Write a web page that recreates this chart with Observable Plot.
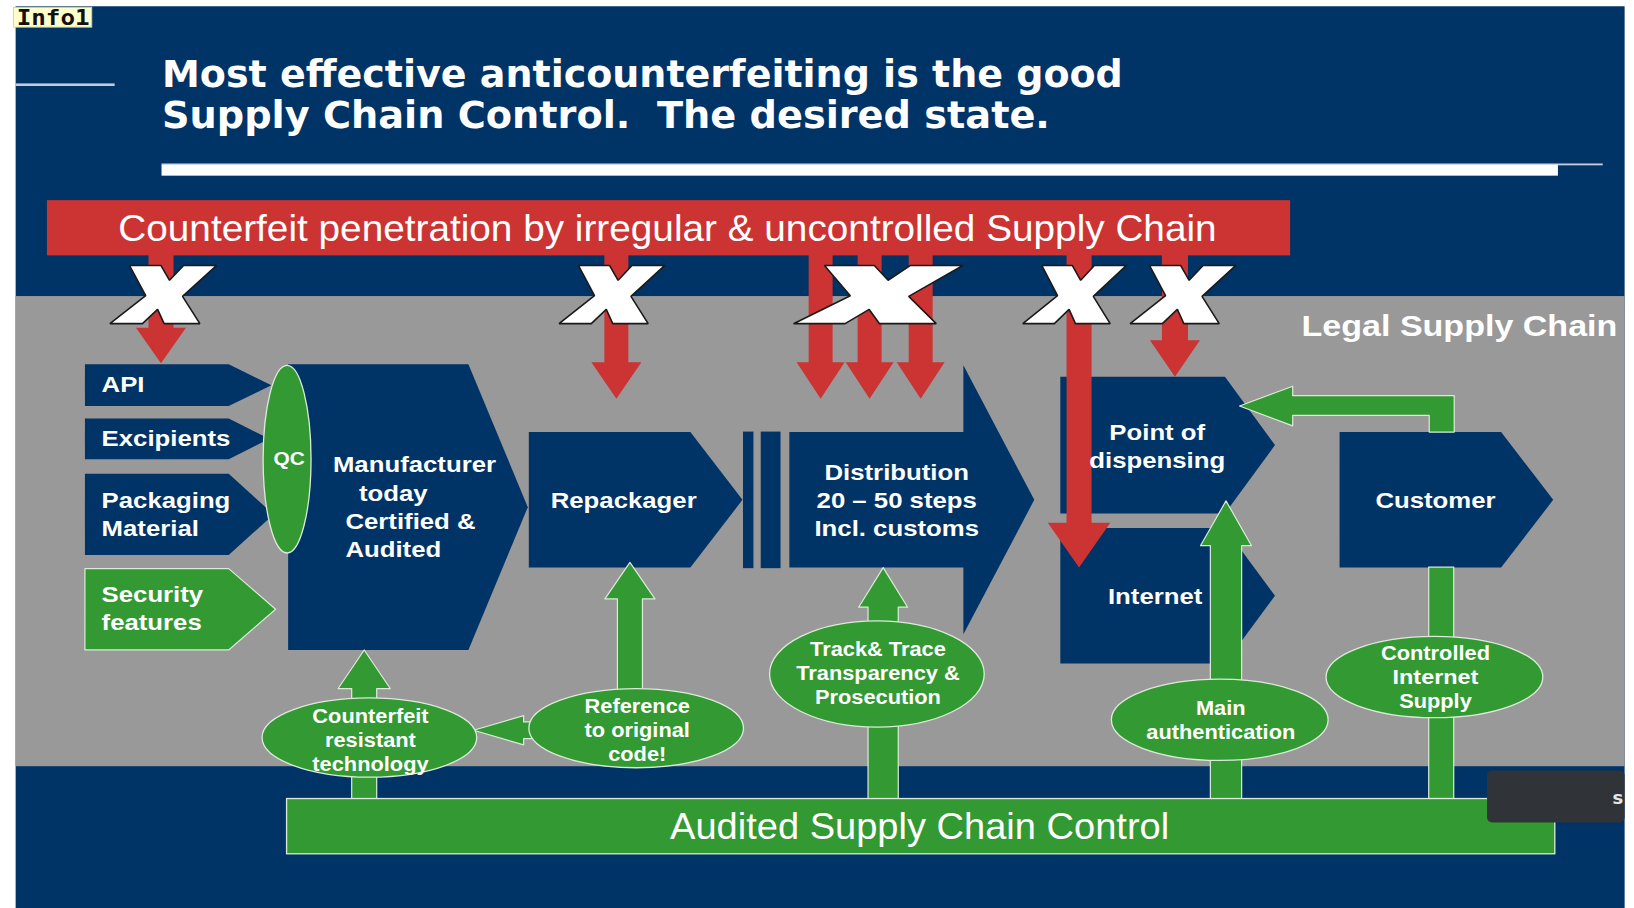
<!DOCTYPE html>
<html>
<head>
<meta charset="utf-8">
<script src="https://cdn.jsdelivr.net/npm/d3@7"></script>
<script src="https://cdn.jsdelivr.net/npm/@observablehq/plot@0.6"></script>
<style>
html,body{margin:0;padding:0;background:#fff;}
#chart svg{display:block;}
#chart text{white-space:pre;}
</style>
</head>
<body>
<div id="chart"></div>
<script>
// ---------------- TEXT CONTENT ----------------
const titleLines = ["Most effective anticounterfeiting is the good", "Supply Chain Control.  The desired state."];
const topBanner = "Counterfeit penetration by irregular & uncontrolled Supply Chain";
const bottomBanner = "Audited Supply Chain Control";
const regionLabel = "Legal Supply Chain";
const tagLabel = "Info1";
const tooltipLabel = "s";
const inputLabels = ["API", "Excipients", "Packaging\nMaterial", "Security\nfeatures"];
const qcLabel = "QC";
const manufacturerLines = ["Manufacturer", "today", "Certified &", "Audited"];
const stageLabels = ["Repackager", "Distribution\n20 – 50 steps\nIncl. customs", "Point of\ndispensing", "Internet", "Customer"];
const controlLabels = ["Counterfeit\nresistant\ntechnology", "Reference\nto original\ncode!", "Track& Trace\nTransparency &\nProsecution", "Main\nauthentication", "Controlled\nInternet\nSupply"];

// ---------------- LAYOUT (reference-image units, 1568 x 871) ----------------
const SX = 1568, SY = 871, W = 1634, H = 908, K = W / SX;
const BLUE = "#003366", GRAY = "#999999", RED = "#cc3333", GREEN = "#339933", EDGE = "#dcebd9";

const panels = [
  {x1: 15, x2: 1559, y1: 6, y2: 871, fill: BLUE},
  {x1: 15, x2: 1559, y1: 284, y2: 735, fill: GRAY},
  {x1: 15, x2: 110, y1: 80, y2: 82.5, fill: "#c3cbdb"},
  {x1: 155, x2: 1538, y1: 156.8, y2: 158.6, fill: "#c3cbdb"},
  {x1: 155, x2: 1495, y1: 158, y2: 168.5, fill: "#ffffff"},
  {x1: 45, x2: 1238, y1: 192, y2: 245, fill: RED}
];
const inputBoxes = [
  {x0: 81, x1: 219, xt: 260, y0: 349, y1: 389},
  {x0: 81, x1: 219, xt: 258, y0: 401, y1: 440},
  {x0: 81, x1: 219, xt: 262, y0: 454, y1: 532},
  {x0: 81, x1: 219, xt: 264, y0: 545, y1: 623}
];
const manufacturerBox = {x0: 276, x1: 449, xt: 506, y0: 349, y1: 623};
const stageBoxes = [
  {x0: 507, x1: 662, xt: 712, y0: 414, y1: 544},
  {x0: 757, x1: 924, xt: 992, y0: 414, y1: 544, hy0: 350, hy1: 608},
  {x0: 1017, x1: 1175, xt: 1223, y0: 361, y1: 492},
  {x0: 1017, x1: 1175, xt: 1223, y0: 506, y1: 636},
  {x0: 1285, x1: 1440, xt: 1490, y0: 414, y1: 544}
];
const separators = [{x1: 713, x2: 723, y1: 414, y2: 545}, {x1: 730, x2: 749, y1: 414, y2: 545}];
const redArrows = [
  {x: 154, y0: 244, y1: 348, sw: 24, hw: 48, hl: 34},
  {x: 591, y0: 244, y1: 382, sw: 23, hw: 48, hl: 35},
  {x: 787, y0: 244, y1: 382, sw: 23, hw: 46, hl: 35},
  {x: 834, y0: 244, y1: 382, sw: 23, hw: 46, hl: 35},
  {x: 883, y0: 244, y1: 382, sw: 23, hw: 46, hl: 35},
  {x: 1035, y0: 244, y1: 544, sw: 24, hw: 60, hl: 43},
  {x: 1127, y0: 244, y1: 361, sw: 25, hw: 48, hl: 35}
];
const crosses = [
  {x0: 105, x1: 209}, {x0: 536, x1: 639}, {x0: 761, x1: 926}, {x0: 981, x1: 1082}, {x0: 1084, x1: 1187}
];
const crossY = [253, 310];
const crossShape = [[0.18,0.02],[0.47,0.02],[0.55,0.27],[0.68,0.02],[0.985,0.02],[0.67,0.54],[0.83,1],[0.5,1],[0.44,0.76],[0.3,1],[0,1],[0.33,0.53]];
const greenArrows = [
  {x: 349, y0: 766, y1: 623, sw: 24, hw: 50, hl: 37},
  {x: 604, y0: 690, y1: 539, sw: 24, hw: 48, hl: 35},
  {x: 847, y0: 766, y1: 544, sw: 29, hw: 47, hl: 38},
  {x: 1176, y0: 766, y1: 480, sw: 30, hw: 49, hl: 43}
];
const greenStems = [{x1: 1371, x2: 1395, y1: 544, y2: 766}];
const returnArrow = [[1395,414],[1395,379],[1240,379],[1240,370],[1189,389],[1240,408],[1240,398],[1371,398],[1371,414]];
const linkArrow = [[511,692],[502,692],[502,686],[454,700],[502,714],[502,708],[511,708]];
const securityIndex = 3;
const auditBar = {x1: 275, x2: 1492, y1: 766, y2: 819};
const qcOval = {x: 275, y: 440, rx: 23, ry: 90};
const controlOvals = [
  {x: 354, y: 707, rx: 103, ry: 38, ty: 709.5},
  {x: 610, y: 698, rx: 103, ry: 38, ty: 700},
  {x: 841, y: 646, rx: 103, ry: 51, ty: 646},
  {x: 1170, y: 690, rx: 104, ry: 39, ty: 690.5},
  {x: 1376, y: 649, rx: 104, ry: 39, ty: 649.5}
];
const inputText = [{x: 97, y: 369}, {x: 97, y: 421}, {x: 97, y: 493.5}, {x: 97, y: 583.5}];
const manufacturerText = {xs: [319, 344, 331, 331], y: 446};
const stageText = [{x: 598, y: 480}, {x: 860, y: 480}, {x: 1110, y: 428.5}, {x: 1108, y: 572}, {x: 1377, y: 480}];
const titleText = {x: 155, ys: [72, 111], widths: [922, 852]};
const topBannerText = {x: 640, y: 219, width: 1054};
const bottomBannerText = {x: 882, y: 793, width: 479};
const regionText = {x: 1400, y: 313, width: 303};
const tagBox = {x1: 13, x2: 88, y1: 7, y2: 26, tx: 15.5, ty: 17, width: 70};
const tooltipBox = {x1: 1427, x2: 1559, y1: 739, y2: 789, tx: 1547, ty: 765};
const BOX_LH = 27, OVAL_LH = 23;
const BOX_STRETCH = 1.17, OVAL_STRETCH = 1.09, QC_STRETCH = 1.1;

// ---------------- GEOMETRY HELPERS ----------------
function chevron(b) {
  const ym = (b.y0 + b.y1) / 2;
  if (b.hy0 != null) return [[b.x0,b.y0],[b.x1,b.y0],[b.x1,b.hy0],[b.xt,ym],[b.x1,b.hy1],[b.x1,b.y1],[b.x0,b.y1]];
  return [[b.x0,b.y0],[b.x1,b.y0],[b.xt,ym],[b.x1,b.y1],[b.x0,b.y1]];
}
function vArrow(a) {
  const d = Math.sign(a.y1 - a.y0), hb = a.y1 - d * a.hl;
  return [[a.x-a.sw/2,a.y0],[a.x-a.sw/2,hb],[a.x-a.hw/2,hb],[a.x,a.y1],[a.x+a.hw/2,hb],[a.x+a.sw/2,hb],[a.x+a.sw/2,a.y0]];
}
function crossPoly(c) {
  return crossShape.map(([u, v]) => [c.x0 + u * (c.x1 - c.x0), crossY[0] + v * (crossY[1] - crossY[0])]);
}
function rows(polys) {
  return polys.flatMap((pts, id) => pts.map(([x, y]) => ({id, x, y})));
}
function ellipseSymbol(rx, ry) {
  const k = 0.5522847498;
  return {draw(c) {
    c.moveTo(-rx, 0);
    c.bezierCurveTo(-rx, -ry*k, -rx*k, -ry, 0, -ry);
    c.bezierCurveTo(rx*k, -ry, rx, -ry*k, rx, 0);
    c.bezierCurveTo(rx, ry*k, rx*k, ry, 0, ry);
    c.bezierCurveTo(-rx*k, ry, -rx, ry*k, -rx, 0);
    c.closePath();
  }};
}
function splitLines(label, x, cy, lh) {
  const ls = label.split("\n");
  return ls.map((text, i) => ({text, x, y: cy + (i - (ls.length - 1) / 2) * lh}));
}

// ---------------- BUILD ROWS ----------------
const bluePolys = rows([
  ...inputBoxes.filter((_, i) => i !== securityIndex).map(chevron),
  chevron(manufacturerBox),
  ...stageBoxes.map(chevron)
]);
const greenPolys = rows([
  chevron(inputBoxes[securityIndex]),
  ...greenArrows.map(vArrow),
  returnArrow,
  linkArrow
]);
const redPolys = rows(redArrows.map(vArrow));
const crossPolys = rows(crosses.map(crossPoly));

const inputRows = inputLabels.flatMap((l, i) => splitLines(l, inputText[i].x, inputText[i].y, BOX_LH));
const manuRows = manufacturerLines.map((t, i) => ({text: t, x: manufacturerText.xs[i], y: manufacturerText.y + i * BOX_LH}));
const stageRows = stageLabels.flatMap((l, i) => splitLines(l, stageText[i].x, stageText[i].y, BOX_LH));
const ovalRows = controlLabels.flatMap((l, i) => splitLines(l, controlOvals[i].x + 1, controlOvals[i].ty, OVAL_LH));
const titleRows = titleLines.map((t, i) => ({text: t, x: titleText.x, y: titleText.ys[i]}));

const FONT = "Liberation Sans, Arial, sans-serif";
const NARROW = "Liberation Sans Narrow, Liberation Sans, Arial, sans-serif";

const ovalMarks = [qcOval, ...controlOvals].map(o =>
  Plot.dot([o], {x: "x", y: "y", r: 5, symbol: ellipseSymbol(o.rx * K, o.ry * K), fill: GREEN, stroke: EDGE, strokeWidth: 1.3})
);

const plot = Plot.plot({
  width: W, height: H, margin: 0,
  x: {domain: [0, SX], range: [0, W], axis: null},
  y: {domain: [0, SY], range: [0, H], axis: null},
  color: {type: "identity"},
  style: {background: "#ffffff", fontFamily: FONT},
  marks: [
    Plot.rect(panels, {x1: "x1", x2: "x2", y1: "y1", y2: "y2", fill: "fill"}),
    Plot.line(bluePolys, {x: "x", y: "y", z: "id", curve: "linear-closed", fill: BLUE, stroke: "none"}),
    Plot.rect(separators, {x1: "x1", x2: "x2", y1: "y1", y2: "y2", fill: BLUE}),
    Plot.rect(greenStems, {x1: "x1", x2: "x2", y1: "y1", y2: "y2", fill: GREEN, stroke: EDGE, strokeWidth: 1.2}),
    Plot.line(greenPolys, {x: "x", y: "y", z: "id", curve: "linear-closed", fill: GREEN, stroke: EDGE, strokeWidth: 1.2}),
    Plot.rect([auditBar], {x1: "x1", x2: "x2", y1: "y1", y2: "y2", fill: GREEN, stroke: EDGE, strokeWidth: 1.3}),
    ...ovalMarks,
    Plot.line(redPolys, {x: "x", y: "y", z: "id", curve: "linear-closed", fill: RED, stroke: "none"}),
    Plot.line(crossPolys, {x: "x", y: "y", z: "id", curve: "linear-closed", fill: "#ffffff", stroke: "#1a1a1a", strokeWidth: 1.6, strokeLinejoin: "miter"}),
    // texts
    Plot.text(titleRows, {x: "x", y: "y", text: "text", textAnchor: "start", lineAnchor: "middle", fill: "#ffffff", fontSize: 37, fontWeight: "bold", fontFamily: "DejaVu Sans, Verdana, sans-serif"}),
    Plot.text([topBannerText], {x: "x", y: "y", text: () => topBanner, lineAnchor: "middle", fill: "#ffffff", fontSize: 37, fontFamily: NARROW}),
    Plot.text([bottomBannerText], {x: "x", y: "y", text: () => bottomBanner, lineAnchor: "middle", fill: "#ffffff", fontSize: 36, fontFamily: NARROW}),
    Plot.text([regionText], {x: "x", y: "y", text: () => regionLabel, lineAnchor: "middle", fill: "#ffffff", fontSize: 30, fontWeight: "bold", fontFamily: FONT}),
    Plot.text(inputRows, {x: "x", y: "y", text: "text", textAnchor: "start", lineAnchor: "middle", fill: "#ffffff", fontSize: 22, fontWeight: "bold"}),
    Plot.text(manuRows, {x: "x", y: "y", text: "text", textAnchor: "start", lineAnchor: "middle", fill: "#ffffff", fontSize: 22, fontWeight: "bold"}),
    Plot.text(stageRows, {x: "x", y: "y", text: "text", lineAnchor: "middle", fill: "#ffffff", fontSize: 22, fontWeight: "bold"}),
    Plot.text([qcOval], {x: "x", y: "y", text: () => qcLabel, dx: 2, lineAnchor: "middle", fill: "#ffffff", fontSize: 19, fontWeight: "bold"}),
    Plot.text(ovalRows, {x: "x", y: "y", text: "text", lineAnchor: "middle", fill: "#ffffff", fontSize: 20, fontWeight: "bold"}),
    // overlays
    Plot.rect([tooltipBox], {x1: "x1", x2: "x2", y1: "y1", y2: "y2", fill: "#303438", rx: 5}),
    Plot.text([tooltipBox], {x: "tx", y: "ty", text: () => tooltipLabel, textAnchor: "start", lineAnchor: "middle", fill: "#e6e6e6", fontSize: 18, fontWeight: "bold", fontFamily: "DejaVu Sans, sans-serif"}),
    Plot.rect([tagBox], {x1: "x1", x2: "x2", y1: "y1", y2: "y2", fill: "#ffffcc", stroke: "#d6d68f", strokeWidth: 1}),
    Plot.text([tagBox], {x: "tx", y: "ty", text: () => tagLabel, textAnchor: "start", lineAnchor: "middle", fill: "#111111", fontSize: 21, fontWeight: "bold", fontFamily: "DejaVu Sans Mono, monospace"})
  ]
});
document.getElementById("chart").appendChild(plot);

// stretch texts horizontally to match the (horizontally stretched) slide
const targets = new Map([
  [titleLines[0], () => titleText.widths[0] * K],
  [titleLines[1], () => titleText.widths[1] * K],
  [topBanner, () => topBannerText.width * K],
  [bottomBanner, () => bottomBannerText.width * K],
  [regionLabel, () => regionText.width * K],
  [tagLabel, () => tagBox.width * K],
  [qcLabel, L => L * QC_STRETCH]
]);
[...inputRows, ...manuRows, ...stageRows].forEach(r => targets.set(r.text, L => L * BOX_STRETCH));
ovalRows.forEach(r => { if (!targets.has(r.text)) targets.set(r.text, L => L * OVAL_STRETCH); });
plot.querySelectorAll("text").forEach(el => {
  const f = targets.get(el.textContent);
  if (!f) return;
  const L = el.getComputedTextLength();
  if (!L) return;
  el.setAttribute("textLength", f(L));
  el.setAttribute("lengthAdjust", "spacingAndGlyphs");
});
</script>
</body>
</html>
